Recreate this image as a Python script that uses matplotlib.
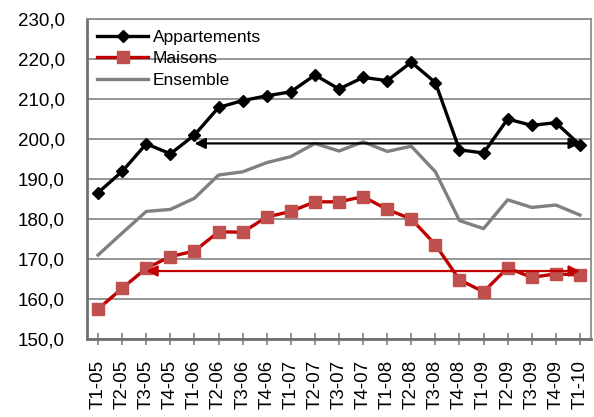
import numpy as np
import matplotlib.pyplot as plt
from matplotlib.ticker import FuncFormatter

plt.rcParams['font.family'] = ['Liberation Sans', 'DejaVu Sans']

# quarters
quarters = ['T1-05', 'T2-05', 'T3-05', 'T4-05', 'T1-06', 'T2-06', 'T3-06', 'T4-06',
            'T1-07', 'T2-07', 'T3-07', 'T4-07', 'T1-08', 'T2-08', 'T3-08', 'T4-08',
            'T1-09', 'T2-09', 'T3-09', 'T4-09', 'T1-10']

appartements = [186.6, 191.9, 198.8, 196.3, 201.0, 207.9, 209.6, 210.8, 211.8, 216.0,
                212.5, 215.4, 214.6, 219.2, 214.1, 197.3, 196.5, 205.0, 203.4, 204.1, 198.5]
maisons = [157.5, 162.7, 167.7, 170.6, 172.0, 176.8, 176.7, 180.5, 181.9, 184.3,
           184.3, 185.6, 182.4, 180.0, 173.6, 164.8, 161.8, 167.8, 165.4, 166.3, 166.0]
ensemble = [171.0, 176.5, 181.9, 182.4, 185.2, 191.0, 191.8, 194.1, 195.6, 198.9,
            197.0, 199.3, 196.9, 198.2, 191.8, 179.6, 177.6, 184.8, 182.9, 183.5, 181.0]

# reference arrows: (start index, end index, level)
arrow_app = (4, 20, 198.9)
arrow_mai = (2, 20, 167.0)

y_ticks = [150, 160, 170, 180, 190, 200, 210, 220, 230]


def main():
    fig = plt.figure(figsize=(5.94, 4.17), dpi=100)
    ax = fig.add_axes([0.1465, 0.187, 0.8485, 0.7674])
    x = np.arange(len(quarters))

    ax.plot(x, ensemble, color='#808080', lw=2.4, label='Ensemble', zorder=3)
    ax.plot(x, maisons, color='#C00000', lw=2.4, marker='s', ms=8,
            mfc='#C0504D', mec='#C0504D', label='Maisons', zorder=4)
    ax.plot(x, appartements, color='black', lw=2.4, marker='D', ms=6.5,
            label='Appartements', zorder=5)

    for (i0, i1, lev), col in [(arrow_app, 'black'), (arrow_mai, '#C00000')]:
        ax.annotate('', xy=(x[i1], lev), xytext=(x[i0], lev),
                    arrowprops=dict(arrowstyle='<|-|>', color=col, lw=1.6,
                                    shrinkA=0, shrinkB=0, mutation_scale=16),
                    zorder=6)

    ax.set_xlim(-0.46, len(quarters) - 0.54)
    ax.set_ylim(150, 230)
    ax.set_yticks(y_ticks)
    ax.yaxis.set_major_formatter(FuncFormatter(lambda v, p: f"{v:.1f}".replace('.', ',')))
    ax.set_xticks(x)
    ax.set_xticklabels(quarters, rotation=90, va='top', ha='center')
    ax.tick_params(axis='y', length=0, pad=16, labelsize=13.5)
    ax.tick_params(axis='x', direction='inout', length=8, width=1.2, color='#808080',
                   pad=11, labelsize=13.5)
    ax.grid(axis='y', color='#8c8c8c', lw=1.3)
    ax.set_axisbelow(True)

    for s in ['left', 'bottom']:
        ax.spines[s].set_color('#707070')
        ax.spines[s].set_linewidth(2)
    for s in ['top', 'right']:
        ax.spines[s].set_color('#8c8c8c')
        ax.spines[s].set_linewidth(1.3)

    h, l = ax.get_legend_handles_labels()
    order = [2, 1, 0]
    ax.legend([h[i] for i in order], [l[i] for i in order], loc='upper left',
              frameon=False, fontsize=12.5, handlelength=2.9, numpoints=1,
              labelspacing=0.38, handletextpad=0.3, borderaxespad=0.2,
              bbox_to_anchor=(0.0, 1.0))

    fig.savefig('out.png', dpi=100)


if __name__ == '__main__':
    main()
